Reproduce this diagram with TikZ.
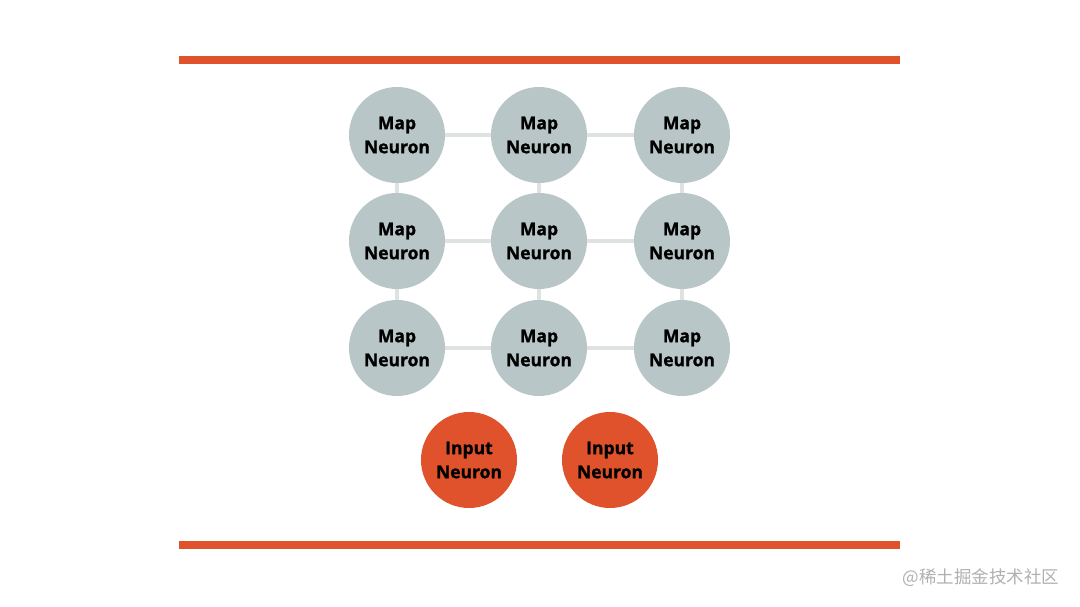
\documentclass[tikz,border=0pt]{standalone}
\usepackage{fontspec}
\setmainfont{Open Sans}[BoldFeatures={FakeBold=1.3}]
\newfontfamily\cjk{Noto Sans CJK SC}
\usepackage{tikz}
\usetikzlibrary{calc}
\usetikzlibrary{positioning}
\definecolor{orange}{RGB}{224,82,43}
\definecolor{mapgray}{RGB}{185,198,200}
\definecolor{linkgray}{RGB}{222,226,227}
\definecolor{markgray}{RGB}{176,176,176}

\begin{document}
\begin{tikzpicture}[x=1pt,y=-1pt,
  neuron/.style={circle,minimum size=96pt,inner sep=0pt,align=center,
    font=\fontsize{17.5}{24}\selectfont\bfseries},
  map/.style={neuron,fill=mapgray},
  input/.style={neuron,fill=orange},
  link/.style={linkgray,line width=4pt}]

\useasboundingbox (0,0) rectangle (1080,607);

% orange bars
\coordinate (ta) at (179,60);
\coordinate (tb) at (900,60);
\coordinate (ba) at (179,545);
\coordinate (bb) at (900,545);
\draw[orange,line width=8pt] (ta) -- (tb);
\draw[orange,line width=8pt] (ba) -- (bb);

% map neurons
\foreach \r/\y in {1/135,2/241,3/348}
  \foreach \c/\x in {1/397,2/539,3/682}
    \node[map] (m\r\c) at (\x,\y) {Map\\Neuron};

% links
\foreach \r in {1,2,3} {
  \draw[link] (m\r1) -- (m\r2);
  \draw[link] (m\r2) -- (m\r3);
}
\foreach \c in {1,2,3} {
  \draw[link] (m1\c) -- (m2\c);
  \draw[link] (m2\c) -- (m3\c);
}

% input neurons
\node[input] (in1) at (469,460) {Input\\Neuron};
\node[input] (in2) at (610,460) {Input\\Neuron};

\node[markgray,font=\cjk\fontsize{17.5}{20}\selectfont] (mark) at (981,578) {@稀土掘金技术社区};
\end{tikzpicture}
\end{document}
